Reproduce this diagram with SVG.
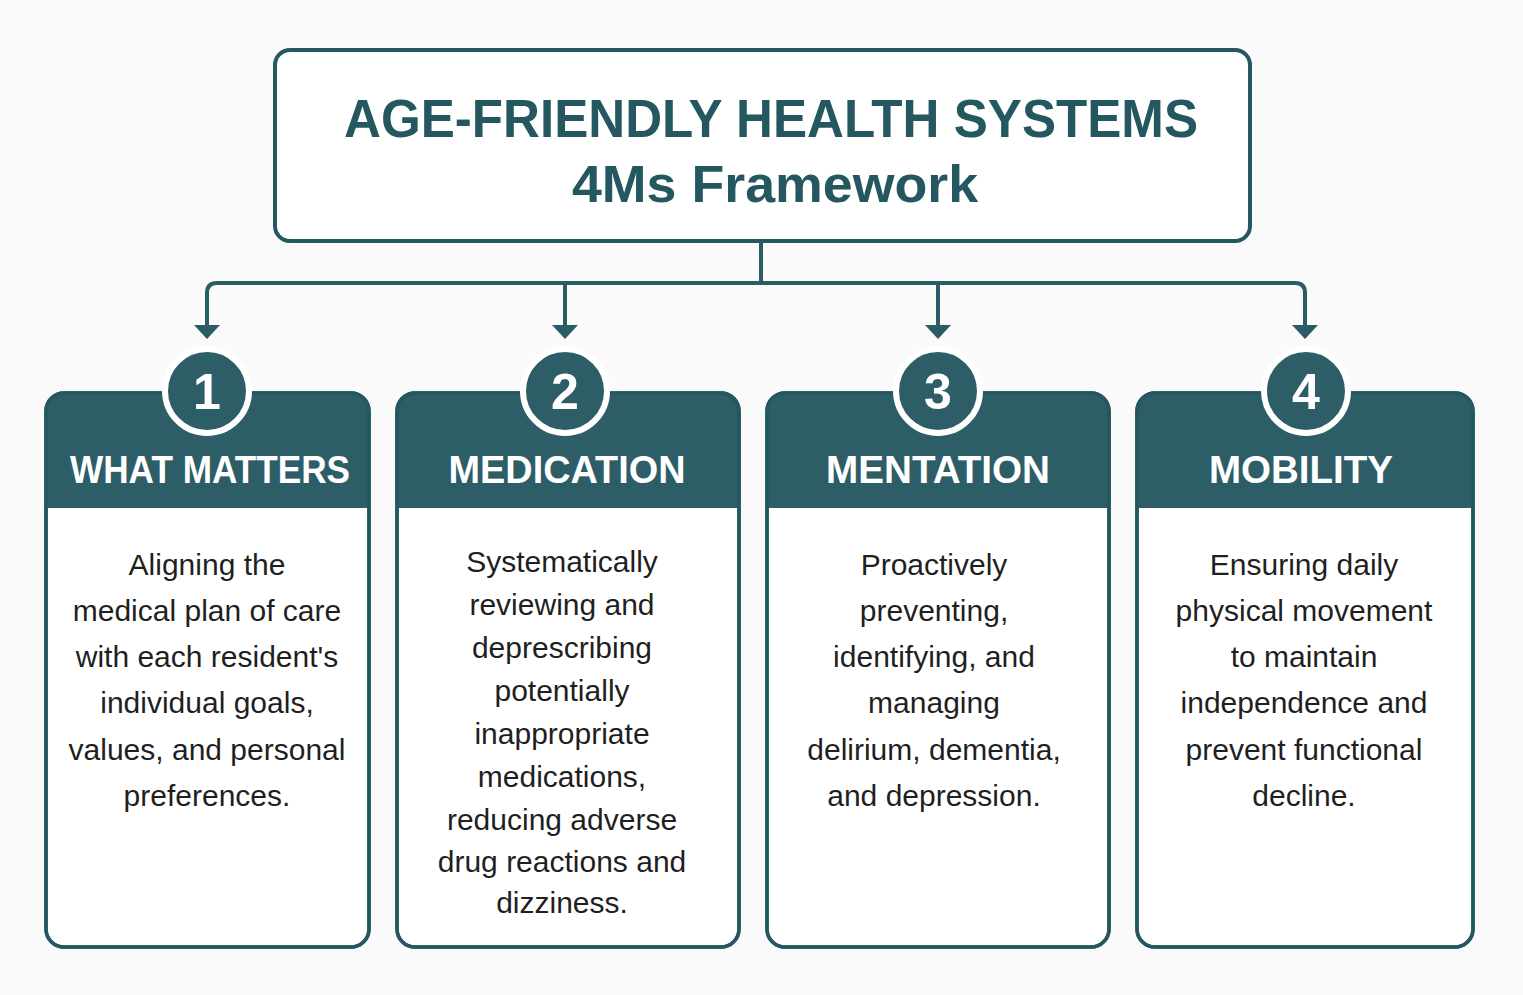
<svg xmlns="http://www.w3.org/2000/svg" width="1523" height="995" viewBox="0 0 1523 995">
<defs>
<style>
.bg{fill:#fafafa}
.box{fill:#ffffff;stroke:#245760;stroke-width:4}
.card{fill:#ffffff;stroke:#245760;stroke-width:3.5}
.cardline{fill:none;stroke:#245760;stroke-width:3.5}
.head{fill:#2d5e67}
.badge{fill:#2d5e67;stroke:#ffffff;stroke-width:6}
.conn{fill:none;stroke:#2a5c65;stroke-width:4;stroke-linejoin:round}
.title{font-family:"Liberation Sans",Arial,sans-serif;font-weight:bold;fill:#245760;text-anchor:middle}
.num{font-family:"Liberation Sans",Arial,sans-serif;font-weight:bold;font-size:50px;fill:#ffffff;text-anchor:middle}
.htxt{font-family:"Liberation Sans",Arial,sans-serif;font-weight:bold;font-size:38px;fill:#ffffff;text-anchor:middle}
.body{font-family:"Liberation Sans",Arial,sans-serif;font-size:30px;fill:#1f1f1f;text-anchor:middle}
</style>
<marker id="arr" viewBox="0 0 14 26" refX="1" refY="13" markerWidth="14" markerHeight="26" markerUnits="userSpaceOnUse" orient="auto">
<path d="M0,0 L14,13 L0,26 Z" fill="#2a5c65"/>
</marker>
</defs>
<rect class="bg" x="0" y="0" width="1523" height="995"/>

<g id="title">
<rect class="box" x="275" y="50" width="975" height="191" rx="15"/>
<text class="title" x="771" y="137" font-size="54" textLength="854" lengthAdjust="spacingAndGlyphs">AGE-FRIENDLY HEALTH SYSTEMS</text>
<text class="title" x="775" y="202" font-size="52" textLength="406" lengthAdjust="spacingAndGlyphs">4Ms Framework</text>
</g>

<g id="connectors">
<path class="conn" d="M761,241 V283"/>
<path class="conn" d="M761,283 H217 Q207,283 207,293 V326" marker-end="url(#arr)"/>
<path class="conn" d="M761,283 H1295 Q1305,283 1305,293 V326" marker-end="url(#arr)"/>
<path class="conn" d="M565,283 V326" marker-end="url(#arr)"/>
<path class="conn" d="M938,283 V326" marker-end="url(#arr)"/>
</g>

<g id="card1">
<rect class="card" x="46" y="393" width="323" height="554" rx="18"/>
<path class="head" d="M46,508 V411 Q46,393 64,393 H351 Q369,393 369,411 V508 Z"/>
<rect class="cardline" x="46" y="393" width="323" height="554" rx="18"/>
<circle class="badge" cx="207" cy="391" r="42"/>
<text class="num" x="207" y="409">1</text>
<text class="htxt" x="210" y="483" textLength="280" lengthAdjust="spacingAndGlyphs">WHAT MATTERS</text>
<text class="body" x="207" y="575">Aligning the</text>
<text class="body" x="207" y="621">medical plan of care</text>
<text class="body" x="207" y="667">with each resident's</text>
<text class="body" x="207" y="713">individual goals,</text>
<text class="body" x="207" y="760">values, and personal</text>
<text class="body" x="207" y="806">preferences.</text>
</g>

<g id="card2">
<rect class="card" x="397" y="393" width="342" height="554" rx="18"/>
<path class="head" d="M397,508 V411 Q397,393 415,393 H721 Q739,393 739,411 V508 Z"/>
<rect class="cardline" x="397" y="393" width="342" height="554" rx="18"/>
<circle class="badge" cx="565" cy="391" r="42"/>
<text class="num" x="565" y="409">2</text>
<text class="htxt" x="567" y="483" textLength="237" lengthAdjust="spacingAndGlyphs">MEDICATION</text>
<text class="body" x="562" y="572">Systematically</text>
<text class="body" x="562" y="615">reviewing and</text>
<text class="body" x="562" y="658">deprescribing</text>
<text class="body" x="562" y="701">potentially</text>
<text class="body" x="562" y="744">inappropriate</text>
<text class="body" x="562" y="787">medications,</text>
<text class="body" x="562" y="830">reducing adverse</text>
<text class="body" x="562" y="872">drug reactions and</text>
<text class="body" x="562" y="913">dizziness.</text>
</g>

<g id="card3">
<rect class="card" x="767" y="393" width="342" height="554" rx="18"/>
<path class="head" d="M767,508 V411 Q767,393 785,393 H1091 Q1109,393 1109,411 V508 Z"/>
<rect class="cardline" x="767" y="393" width="342" height="554" rx="18"/>
<circle class="badge" cx="938" cy="391" r="42"/>
<text class="num" x="938" y="409">3</text>
<text class="htxt" x="938" y="483" textLength="224" lengthAdjust="spacingAndGlyphs">MENTATION</text>
<text class="body" x="934" y="575">Proactively</text>
<text class="body" x="934" y="621">preventing,</text>
<text class="body" x="934" y="667">identifying, and</text>
<text class="body" x="934" y="713">managing</text>
<text class="body" x="934" y="760">delirium, dementia,</text>
<text class="body" x="934" y="806">and depression.</text>
</g>

<g id="card4">
<rect class="card" x="1137" y="393" width="336" height="554" rx="18"/>
<path class="head" d="M1137,508 V411 Q1137,393 1155,393 H1455 Q1473,393 1473,411 V508 Z"/>
<rect class="cardline" x="1137" y="393" width="336" height="554" rx="18"/>
<circle class="badge" cx="1306" cy="391" r="42"/>
<text class="num" x="1306" y="409">4</text>
<text class="htxt" x="1301" y="483" textLength="184" lengthAdjust="spacingAndGlyphs">MOBILITY</text>
<text class="body" x="1304" y="575">Ensuring daily</text>
<text class="body" x="1304" y="621">physical movement</text>
<text class="body" x="1304" y="667">to maintain</text>
<text class="body" x="1304" y="713">independence and</text>
<text class="body" x="1304" y="760">prevent functional</text>
<text class="body" x="1304" y="806">decline.</text>
</g>
</svg>
